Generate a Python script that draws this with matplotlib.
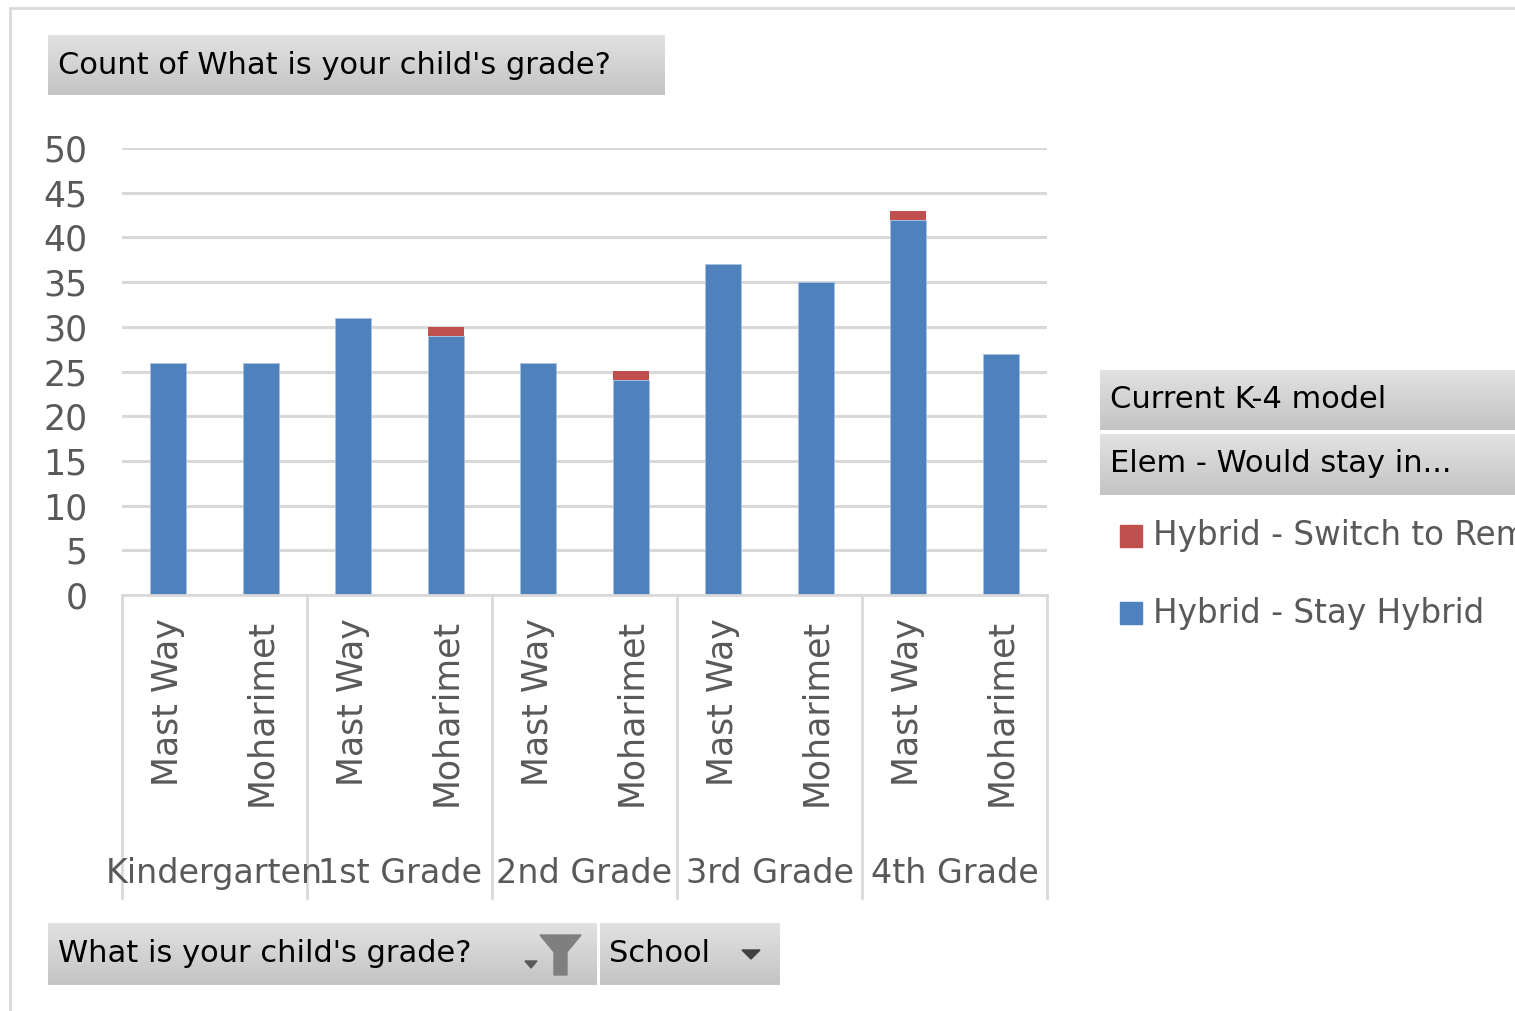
import numpy as np
import matplotlib
matplotlib.use('Agg')
import matplotlib.pyplot as plt
from matplotlib.patches import Rectangle, Polygon
from matplotlib.lines import Line2D

# data
grades = ['Kindergarten', '1st Grade', '2nd Grade', '3rd Grade', '4th Grade']
schools = ['Mast Way', 'Moharimet']
stay_hybrid = [26, 26, 31, 29, 26, 24, 37, 35, 42, 27]
switch_remote = [0, 0, 0, 1, 0, 1, 0, 0, 1, 0]
series_names = ['Hybrid - Stay Hybrid', 'Hybrid - Switch to Remote']
colors = ['#4f81bd', '#c0504d']

W, H = 1515, 1011
plt.rcParams['font.family'] = 'DejaVu Sans'
fig = plt.figure(figsize=(W / 100, H / 100), dpi=100)


def fx(x):
    return x / W


def fy(y):
    return 1 - y / H


def button(x0, y0, x1, y1):
    # grey gradient box like the Excel pivot buttons
    bax = fig.add_axes([fx(x0), fy(y1), fx(x1 - x0), (y1 - y0) / H])
    grad = np.linspace(0, 1, 64).reshape(-1, 1)
    bax.imshow(grad, aspect='auto', cmap=matplotlib.colors.LinearSegmentedColormap.from_list(
        'g', ['#e2e2e2', '#c4c4c4']), extent=[0, 1, 0, 1], origin='upper')
    bax.set_axis_off()
    return bax


# outer frame
fig.add_artist(Line2D([fx(10), fx(10)], [fy(8), fy(1011)], color='#d9d9d9', lw=2))
fig.add_artist(Line2D([fx(10), 1], [fy(8), fy(8)], color='#d9d9d9', lw=2))

# main chart
ax = fig.add_axes([fx(122), fy(595), fx(925), 447 / H])
x = np.arange(len(stay_hybrid))
b1 = ax.bar(x, stay_hybrid, width=0.39, color=colors[0], edgecolor='#a9c1e0', lw=0.6)
b2 = ax.bar(x, switch_remote, width=0.39, bottom=stay_hybrid, color=colors[1], lw=0)
ax.set_xlim(-0.5, len(x) - 0.5)
ax.set_ylim(0, 50)
ax.set_yticks(range(0, 51, 5))
ax.yaxis.grid(True, color='#d9d9d9', lw=2.2)
ax.set_axisbelow(True)
for s in ['top', 'right', 'left']:
    ax.spines[s].set_visible(False)
ax.spines['bottom'].set_color('#d9d9d9')
ax.spines['bottom'].set_linewidth(2)
ax.tick_params(length=0, colors='#595959', labelsize=25)
ax.tick_params(axis='y', pad=25)
ax.tick_params(axis='x', pad=17)
ax.set_xticks(x)
ax.set_xticklabels(schools * len(grades), rotation=90)

# grade groups under the school labels
tr = ax.get_xaxis_transform()
for k in range(len(grades) + 1):
    ax.add_line(Line2D([k * 2 - 0.5, k * 2 - 0.5], [0, -303 / 447], transform=tr,
                       color='#d9d9d9', lw=2, clip_on=False))
for k, g in enumerate(grades):
    ax.text(k * 2 + 0.5, -279 / 447, g, transform=tr, ha='center', va='center',
            fontsize=24, color='#595959')

# title button
button(48, 35, 665, 95)
fig.text(fx(58), fy(65), "Count of What is your child's grade?", fontsize=22,
         va='center', ha='left', color='black')

# legend buttons
button(1100, 370, 1515, 430)
fig.text(fx(1110), fy(400), 'Current K-4 model', fontsize=22, va='center', color='black')
button(1100, 434, 1515, 495)
fig.text(fx(1110), fy(464), 'Elem - Would stay in...', fontsize=22, va='center', color='black')

# legend entries (red on top); the first name runs off the right edge as in the source
for yc, c, name in [(536, colors[1], series_names[1]), (613, colors[0], series_names[0])]:
    fig.add_artist(Rectangle((fx(1120), fy(yc + 11)), fx(22), 22 / H, color=c))
    fig.text(fx(1153), fy(yc), name, fontsize=23.5, va='center', color='#595959')

# bottom field buttons
button(48, 923, 596, 985)
fig.text(fx(58), fy(954), "What is your child's grade?", fontsize=22, va='center', color='black')
button(600, 923, 780, 985)
fig.text(fx(609), fy(954), 'School', fontsize=22, va='center', color='black')

# funnel and dropdown arrows
funnel = [(540, 935), (581, 935), (567, 952), (567, 975), (554, 975), (554, 952)]
fig.add_artist(Polygon([(fx(a), fy(b)) for a, b in funnel], color='#7f7f7f'))
fig.add_artist(Polygon([(fx(a), fy(b)) for a, b in [(525, 961), (537, 961), (531, 968)]],
                       color='#595959'))
fig.add_artist(Polygon([(fx(a), fy(b)) for a, b in [(742, 950), (760, 950), (751, 959)]],
                       color='#404040'))

fig.savefig('out.png', dpi=100)
